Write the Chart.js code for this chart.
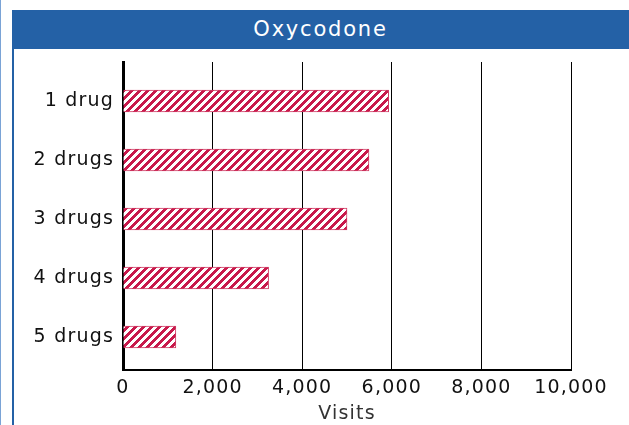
<!DOCTYPE html>
<html>
<head>
<meta charset="utf-8">
<script src="https://cdn.jsdelivr.net/npm/chart.js@4"></script>
<style>
  html, body { margin: 0; padding: 0; background: #fff; }
  #wrap { position: relative; width: 629px; height: 425px; overflow: hidden; }
  #edge { position: absolute; left: 0; top: 0; width: 1px; height: 425px; background: #7aa3d6; }
  #panel { position: absolute; left: 12px; top: 10px; width: 640px; height: 440px; border-left: 2px solid #2461a6; box-sizing: border-box; }
  #header { position: absolute; left: 12px; top: 10px; width: 617px; height: 39px; background: #2461a6;
            color: #fff; font-family: "DejaVu Sans", sans-serif; font-size: 21px; letter-spacing: 1.8px;
            line-height: 39px; text-align: center; }
  canvas { position: absolute; left: 0; top: 0; }
</style>
</head>
<body>
<div id="wrap">
  <div id="edge"></div>
  <div id="panel"></div>
  <div id="header">Oxycodone</div>
  <canvas id="c" width="629" height="425"></canvas>
</div>
<script>
const categories = ["1 drug", "2 drugs", "3 drugs", "4 drugs", "5 drugs"];
const visits = [5930, 5490, 5000, 3250, 1180];
const xTicks = [0, 2000, 4000, 6000, 8000, 10000];
const chartTitle = "Oxycodone";
const xAxisTitle = "Visits";

function makePattern() {
  const s = 8;
  const p = document.createElement('canvas');
  p.width = s; p.height = s;
  const g = p.getContext('2d');
  g.fillStyle = '#c8194b';
  g.fillRect(0, 0, s, s);
  g.fillStyle = '#ffffff';
  for (let y = 0; y < s; y++) {
    for (let x = 0; x < s; x++) {
      if (((x + y) % s) < 4) g.fillRect(x, y, 1, 1);
    }
  }
  return g.createPattern(p, 'repeat');
}

const spacingPlugin = {
  id: 'spacing',
  beforeLayout(chart) { chart.ctx.letterSpacing = '1.2px'; },
  beforeDraw(chart) { chart.ctx.letterSpacing = '1.2px'; }
};

const ctx = document.getElementById('c').getContext('2d');
new Chart(ctx, {
  type: 'bar',
  data: {
    datasets: [{
      label: chartTitle,
      data: categories.map((c, i) => ({ x: visits[i], y: i })),
      backgroundColor: makePattern(),
      borderColor: '#cf3a63',
      borderWidth: 1,
      barThickness: 22
    }]
  },
  options: {
    indexAxis: 'y',
    responsive: false,
    animation: false,
    layout: { padding: { left: 0, right: 58, top: 62, bottom: 0 } },
    plugins: { legend: { display: false }, tooltip: { enabled: false }, title: { display: false } },
    scales: {
      x: {
        type: 'linear',
        min: 0, max: 10000,
        afterBuildTicks(scale) { scale.ticks = xTicks.map(v => ({ value: v })); },
        afterFit(scale) { scale.height = 55; },
        grid: { color: '#000', lineWidth: 1, drawTicks: false },
        border: { display: true, color: '#000', width: 2 },
        ticks: {
          color: '#111', padding: 7,
          font: { family: '"DejaVu Sans"', size: 19 },
          callback: v => v.toLocaleString('en-US')
        },
        title: {
          display: true, text: xAxisTitle, color: '#333',
          font: { family: '"DejaVu Sans"', size: 19 }, padding: { top: 1, bottom: 0 }
        }
      },
      y: {
        type: 'linear',
        reverse: true,
        offset: false,
        min: -0.661, max: 4.559,
        afterBuildTicks(scale) { scale.ticks = categories.map((c, i) => ({ value: i })); },
        afterFit(scale) { scale.width = 123; },
        grid: { display: false, drawTicks: false, offset: false },
        border: { display: true, color: '#000', width: 3 },
        ticks: {
          color: '#111', padding: 9,
          font: { family: '"DejaVu Sans"', size: 19 },
          callback: v => categories[v]
        }
      }
    }
  },
  plugins: [spacingPlugin]
});
</script>
</body>
</html>
